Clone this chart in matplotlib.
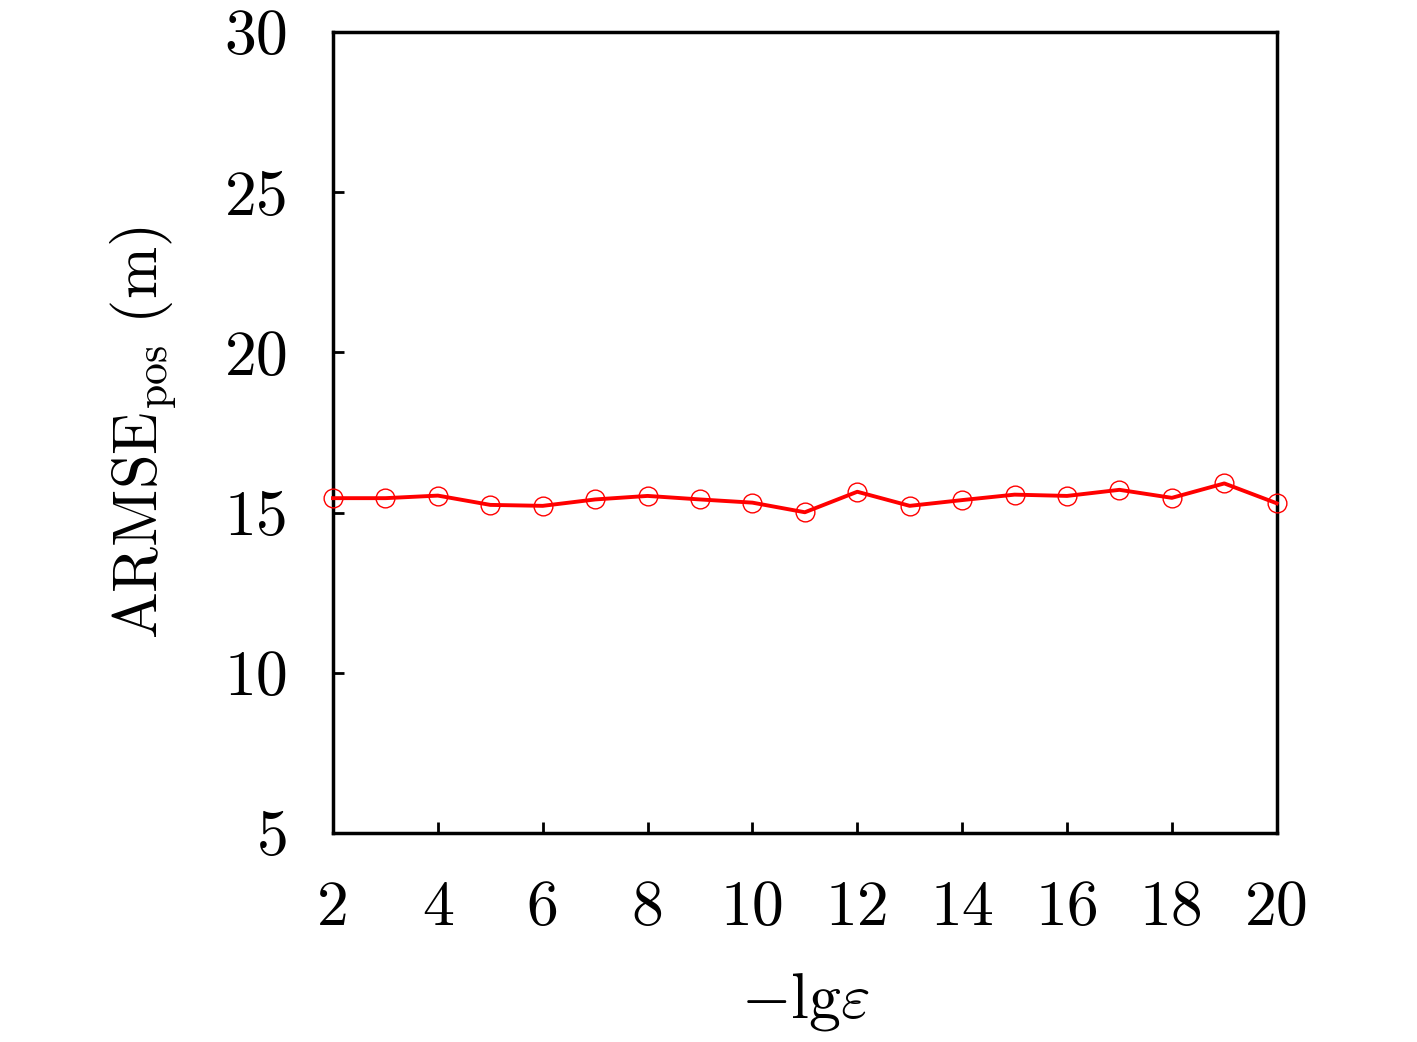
import numpy as np
import matplotlib
matplotlib.use("Agg")
import matplotlib.pyplot as plt

# values
lg_eps = [2, 3, 4, 5, 6, 7, 8, 9, 10, 11, 12, 13, 14, 15, 16, 17, 18, 19, 20]
armse_pos = [15.45, 15.45, 15.53, 15.24, 15.21, 15.41, 15.52, 15.41, 15.31, 15.01,
             15.65, 15.21, 15.39, 15.56, 15.52, 15.71, 15.46, 15.91, 15.29]
xticks = [2, 4, 6, 8, 10, 12, 14, 16, 18, 20]
yticks = [5, 10, 15, 20, 25, 30]

plt.rcParams['font.family'] = 'cmr10'
plt.rcParams['mathtext.fontset'] = 'cm'
plt.rcParams['axes.unicode_minus'] = False

fig = plt.figure(figsize=(14.17, 10.42), dpi=100)
ax = fig.add_axes([0.235, 0.2006, 0.666, 0.7687])

ax.plot(lg_eps, armse_pos, color='red', lw=2.8, marker='o', ms=13.5,
        mfc='none', mec='red', mew=1.0, clip_on=False, zorder=3)

ax.set_xlim(2, 20)
ax.set_ylim(5, 30)
ax.set_xticks(xticks)
ax.set_yticks(yticks)
ax.set_xticklabels([str(t) for t in xticks])
ax.set_yticklabels([str(t) for t in yticks])

for s in ax.spines.values():
    s.set_linewidth(2.5)
ax.tick_params(direction='in', length=8, width=2, labelsize=46,
               top=False, right=False)
ax.tick_params(axis='x', pad=34)
ax.tick_params(axis='y', pad=32)

ax.set_xlabel(r'$-\mathrm{lg}\varepsilon$', fontsize=46, labelpad=24)
ax.set_ylabel(r'$\mathrm{ARMSE}_{\mathrm{pos}}\ (\mathrm{m})$', fontsize=45, labelpad=32)

fig.savefig('out.png', dpi=100)
